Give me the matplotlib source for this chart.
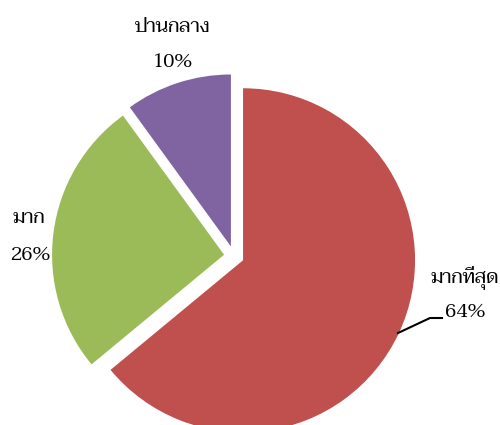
import matplotlib
matplotlib.use("Agg")
import matplotlib.pyplot as plt

labels = ["มากที่สุด", "มาก", "ปานกลาง"]
values = [64, 26, 10]
pct_labels = ["64%", "26%", "10%"]
colors = ["#C0504D", "#9BBB59", "#8064A2"]

plt.rcParams['font.family'] = ['Taviraj', 'DejaVu Serif']

fig = plt.figure(figsize=(5, 4.25), dpi=100)
ax = fig.add_axes([0, 0, 1, 1])
ax.pie(values, colors=colors, startangle=90, counterclock=False,
       explode=[10, 10, 10], radius=172, center=(234, -256),
       wedgeprops=dict(linewidth=0))
ax.set_xlim(0, 500)
ax.set_ylim(-425, 0)
ax.set_aspect("equal")
ax.axis("off")

# label positions (name, percent)
label_pos = [((465, -277), (465, -312)),
             ((29, -218), (30, -255)),
             ((173, -27), (173, -63))]
for name, pct, (p1, p2) in zip(labels, pct_labels, label_pos):
    ax.text(*p1, name, ha="center", va="center", fontsize=14)
    ax.text(*p2, pct, ha="center", va="center", fontsize=14)

ax.plot([398, 430, 442], [-333, -318, -318], color="black", lw=1.5)

fig.savefig("out.png", dpi=100)
